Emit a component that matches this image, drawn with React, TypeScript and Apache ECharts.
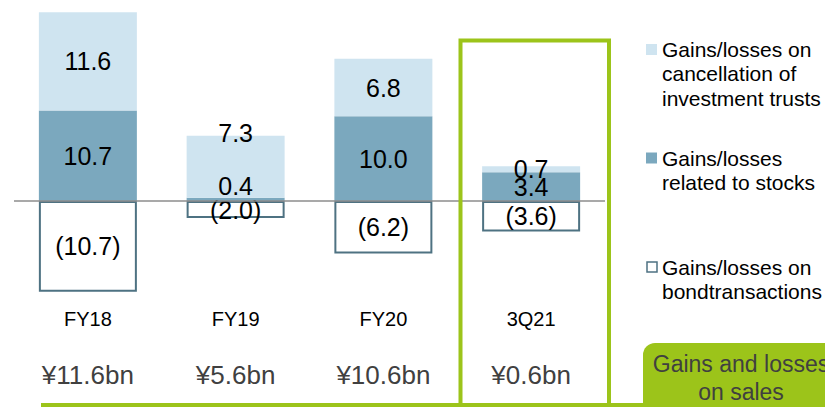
import React, { useEffect, useRef } from "react";
import * as echarts from "echarts";

const categories = ["FY18", "FY19", "FY20", "3Q21"];
const totals = ["¥11.6bn", "¥5.6bn", "¥10.6bn", "¥0.6bn"];
const stocks = [10.7, 0.4, 10.0, 3.4];
const trusts = [11.6, 7.3, 6.8, 0.7];
const bonds = [-10.7, -2.0, -6.2, -3.6];

const seriesNames = [
  "Gains/losses on\ncancellation of\ninvestment trusts",
  "Gains/losses\nrelated to stocks",
  "Gains/losses on\nbondtransactions",
];

const FONT = "'Liberation Sans', Arial, Helvetica, sans-serif";
const LIGHT = "#CFE4F0";
const DARK = "#7BA8BE";
const BOND = "#4E7282";
const GREEN = "#9CC41A";

// label offset overrides (small segments of FY19)
const trustOffsets: Record<number, [number, number]> = { 1: [0, -34] };
const stockOffsets: Record<number, [number, number]> = { 1: [0, -13] };

const fmt = (v: number) => (v < 0 ? `(${Math.abs(v).toFixed(1)})` : v.toFixed(1));

function withLabels(values: number[], offsets: Record<number, [number, number]>) {
  return values.map((v, i) =>
    offsets[i] ? { value: v, label: { offset: offsets[i] } } : v
  );
}

export default function App() {
  const ref = useRef<HTMLDivElement>(null);
  useEffect(() => {
    if (!ref.current) return;
    const chart = echarts.init(ref.current, undefined, { renderer: "svg" });
    const valueLabel = {
      show: true,
      position: "inside" as const,
      color: "#000",
      fontSize: 25,
      fontFamily: FONT,
      formatter: (p: any) => fmt(p.value),
    };
    chart.setOption({
      animation: false,
      textStyle: { fontFamily: FONT },
      grid: { left: 14, width: 591, top: 6.2, height: 296.5 },
      xAxis: [
        {
          type: "category",
          data: categories,
          axisLine: { show: false },
          axisTick: { show: false },
          axisLabel: { color: "#000", fontSize: 20, fontFamily: FONT, margin: 6 },
        },
        {
          type: "category",
          data: categories,
          position: "bottom",
          offset: 52,
          axisLine: { show: false },
          axisTick: { show: false },
          axisLabel: {
            color: "#404040",
            fontSize: 26,
            fontFamily: FONT,
            margin: 7,
            formatter: (_v: string, i: number) => totals[i],
          },
        },
      ],
      yAxis: {
        type: "value",
        min: -12,
        max: 23,
        show: false,
        splitLine: { show: false },
      },
      series: [
        {
          name: seriesNames[1],
          type: "bar",
          stack: "total",
          barWidth: 98,
          data: withLabels(stocks, stockOffsets),
          itemStyle: { color: DARK },
          label: valueLabel,
        },
        {
          name: seriesNames[0],
          type: "bar",
          stack: "total",
          barWidth: 98,
          data: withLabels(trusts, trustOffsets),
          itemStyle: { color: LIGHT },
          label: valueLabel,
        },
        {
          name: seriesNames[2],
          type: "bar",
          stack: "total",
          barWidth: 96,
          data: bonds,
          itemStyle: { color: "#fff", borderColor: BOND, borderWidth: 2 },
          label: valueLabel,
          markLine: {
            silent: true,
            symbol: "none",
            label: { show: false },
            lineStyle: { color: "#8C8C8C", width: 1.5, type: "solid" },
            data: [{ yAxis: 0 }],
          },
        },
      ],
      graphic: [
        {
          type: "rect",
          z: 100,
          shape: { x: 460.5, y: 40.5, width: 148.5, height: 420 },
          style: { fill: "none", stroke: GREEN, lineWidth: 4 },
        },
        {
          type: "rect",
          z: 100,
          shape: { x: 41, y: 403, width: 800, height: 8 },
          style: { fill: GREEN },
        },
        {
          type: "rect",
          z: 100,
          shape: { x: 643, y: 343, width: 200, height: 80, r: 12 },
          style: { fill: GREEN },
        },
        {
          type: "text",
          z: 101,
          x: 741,
          y: 378,
          style: {
            text: "Gains and losses\non sales",
            fill: "#404040",
            fontSize: 23,
            fontFamily: FONT,
            lineHeight: 28,
            align: "center",
            verticalAlign: "middle",
          },
        },
        {
          type: "rect",
          shape: { x: 646, y: 44, width: 11, height: 11 },
          style: { fill: LIGHT },
        },
        {
          type: "rect",
          shape: { x: 646, y: 152.5, width: 11, height: 11 },
          style: { fill: DARK },
        },
        {
          type: "rect",
          shape: { x: 647, y: 262, width: 10, height: 10 },
          style: { fill: "#fff", stroke: BOND, lineWidth: 1.5 },
        },
        {
          type: "text",
          x: 662,
          y: 36.75,
          style: {
            text: seriesNames[0],
            fill: "#000",
            fontSize: 21,
            fontFamily: FONT,
            lineHeight: 24.5,
            verticalAlign: "top",
          },
        },
        {
          type: "text",
          x: 662,
          y: 145.75,
          style: {
            text: seriesNames[1],
            fill: "#000",
            fontSize: 21,
            fontFamily: FONT,
            lineHeight: 24.5,
            verticalAlign: "top",
          },
        },
        {
          type: "text",
          x: 662,
          y: 255,
          style: {
            text: seriesNames[2],
            fill: "#000",
            fontSize: 21,
            fontFamily: FONT,
            lineHeight: 24,
            verticalAlign: "top",
          },
        },
      ],
    });
    return () => chart.dispose();
  }, []);
  return (
    <div
      ref={ref}
      style={{ position: "fixed", left: 0, top: 0, width: 825, height: 407, background: "#fff" }}
    />
  );
}
